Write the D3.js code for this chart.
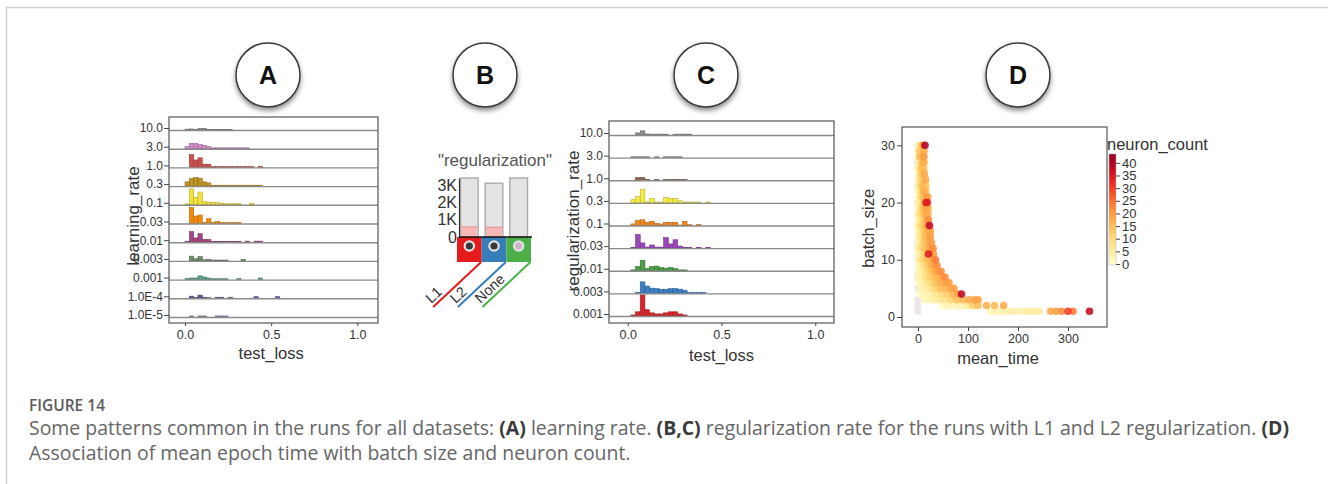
<!DOCTYPE html>
<html><head><meta charset="utf-8">
<script src="https://cdn.jsdelivr.net/npm/d3@7"></script>
<style>
body{margin:0;background:#fff}
svg{display:block}
text{font-family:"Liberation Sans",Arial,sans-serif}
.cap{font-family:"Open Sans","Noto Sans",sans-serif}
</style>
</head><body>
<svg id="c" width="1328" height="484"></svg>
<script>
// ---------------- DATA ----------------
// Panel A: test_loss histograms per learning rate (bin width 0.025 starting at 0.0)
const lrCategories = ["10.0","3.0","1.0","0.3","0.1","0.03","0.01","0.003","0.001","1.0E-4","1.0E-5"];
const lrColors = ["#8c8c8c","#d08cc8","#c9504c","#bf9328","#f2e23a","#f28a0c","#a34683","#6f8c6c","#5aa383","#5c5c96","#8c8cae"];
const lrCounts = [
  [0.8,1,0.5,1.5,1.5,0.6,0.6,0.6,0.6,0.6,0.6],
  [2,5,5,4,3,2,0.8,0.8,0.8,0.8,0.8,0.8,0.8,0.8,0.8],
  [0,12,7,9,3,3,0.7,0.7,0.7,0.7,0.7,0.7,0.7,0.7,0.7,0.7,0,1],
  [4,7,8,7.5,4,3,0.8,0.8,0.8,0.8,0.8,0.8,0.8,0.8,0.8,0.8,0.8,0.8],
  [0.8,15,7,12,3,2.5,2,2,1.5,1,1,1,1,0,0,1.5],
  [0,15,7,8,1,4.5,1,2,0.8,0.8,0.8,0.8,0.8],
  [0.8,10,4,8,2.5,2.5,0.8,0.8,0.8,0.8,0.8,0.8,0.8,0,1,0,1,1],
  [0,4.5,2,4,1,1.5,0.8,0.8,0.8,0.8,0,0,0,1.5],
  [1,1.5,1.5,3.5,2.5,1.5,0.8,0.8,0.8,0.8,0,0,1,0,0,0,0,1.5],
  [0,2,0.8,3,1,0.5,0,1,1,0,1,0,0,0,0,0,1.5,0,0,0,0,1.5],
  [0,1,0,1,1,0,0,1,1,1]
];
const lrBinStart = 0.0;
const binWidth = 0.025;
const lossTicks = [0, 0.5, 1.0];

// Panel B: regularization type counts (total and selected)
const regCategories = ["L1","L2","None"];
const regTotals = [3400, 3100, 3400];
const regSelected = [580, 560, 0];
const regColors = ["#e41a1c","#377eb8","#4daf4a"];
const regTicks = [0, 1000, 2000, 3000];

// Panel C: test_loss histograms per regularization rate (bin width 0.025 starting at 0.0165)
const rrCategories = ["10.0","3.0","1.0","0.3","0.1","0.03","0.01","0.003","0.001"];
const rrColors = ["#8f8f8f","#8f8f8f","#8b6a55","#f4ec45","#f0871f","#9a48b5","#4a9e47","#3b7fc1","#d7262b"];
const rrCounts = [
  [0,2,4,1,0.8,0.8,0.8,0.8,0,0.8,0.8,0.8,0.8],
  [0.8,0.8,0.8,0.8,0,0.8,0,0.8,0.8,0.8,0.8],
  [0,2.5,2.5,1,0,0.8,0,0.8,0.8,0.8,0.8,0.8],
  [3,6,13,1,4,0.8,0.8,5,4,4,2,0.8,0.8,0.8,0.8,0,0.8],
  [1.5,5,5.5,3,4,2,1.5,3,3,3,0.5,4,0.8,0,0.8],
  [0.8,13,5,1,3,1,1,10,4,8,2,0.8,0.8,0,0.8,0,0.8],
  [0.8,4,10,2,4,4.5,3,2.5,3,2,0.8,0.8],
  [0,1,11,7,5,4.5,4,4,4.5,4.5,4,3,0.8,0.8,0.8,0.8],
  [1,4,20,6,3,2,2,3,4,4,2,1]
];
const rrBinStart = 0.0165;

// Panel D: mean_time vs batch_size coloured by neuron_count
const dBatch = [30,29,28,27,26,25,24,23,22,21,20,19,18,17,16,15,14,13,12,11,10,9,8,7,6,5,4,3,2,1];
const dTimes = [
  [2,6,10,14],[1,5,9,12],[0,4,8,12],[2,6,10,13],[0,4,8,12],[1,5,9,13],
  [0,4,8,12,15],[1,5,9,13,16],[0,4,8,12,16],[1,5,9,13,17,20],[0,4,8,12,16,19],
  [1,5,9,13,17,21],[0,4,8,12,16,20],[1,5,9,13,17,21],[0,5,10,15,19,23],
  [1,6,11,16,21,25],[0,5,10,15,20,25],[2,7,12,17,22,27],[0,5,10,15,20,25,30],
  [1,6,11,16,21,26,31],[0,6,12,18,24,30,35],[2,8,14,20,26,32,38],
  [0,7,14,21,28,35,41,46],[1,8,16,24,32,40,48,54],[3,8,16,24,32,40,48,56,62],
  [5,10,19,28,37,46,55,64,72],[6,12,24,36,48,60,70,80,87],
  [14,22,32,42,54,66,78,90,102,112,120],
  [50,60,70,80,90,100,110,120,137,153,171],
  [145,155,165,176,188,200,210,220,232,242,265,276,287,300,310,343]
];
const dNeurons = [
  [4,12,18,40],[8,14,10,18],[3,16,12,20],[6,10,18,14],[4,9,16,13],[2,12,14,18],
  [2,8,13,10,18],[5,10,16,9,14],[2,7,12,18,13],[2,9,14,12,20,16],[3,6,10,15,34,32],
  [2,8,13,16,19,14],[5,9,12,15,18,16],[2,6,10,13,18,22],[4,9,13,16,19,38],
  [2,8,12,15,18,19],[3,6,10,16,15,20],[2,9,13,12,18,20],[5,8,12,15,16,19,22],
  [2,6,10,13,34,18,20],[3,8,11,15,16,19,24],[2,6,10,13,16,19,22],
  [2,5,8,12,15,18,20,22],[3,5,9,12,15,16,19,22],[2,4,7,10,13,16,18,19,20],
  [2,4,6,9,12,15,16,18,20],[2,3,5,8,11,13,16,19,38],
  [2,3,5,7,9,12,15,16,18,19,20],
  [2,3,2,4,4,7,12,15,17,16,18],
  [2,4,3,5,6,3,5,6,5,6,18,20,22,30,24,38]
];
const dFaintBatch = [30,27,23,20,18,16,13,10,8,7,5,3,2,1];
const dFaintTime = [0,-1,0,-1,0,0,-1,0,0,-1,0,0,-1,0];
const timeTicks = [0,100,200,300];
const batchTicks = [0,10,20,30];
const neuronTicks = [0,5,10,15,20,25,30,35,40];

const panelLetters = ["A","B","C","D"];
const captionTitle = "FIGURE 14";
const captionLine1 = [["Some patterns common in the runs for all datasets: ",0],["(A)",1],[" learning rate. ",0],["(B,C)",1],[" regularization rate for the runs with L1 and L2 regularization. ",0],["(D)",1]];
const captionLine2 = "Association of mean epoch time with batch size and neuron count.";

// ---------------- DRAW ----------------
const svg = d3.select("#c");
const defs = svg.append("defs");
const flt = defs.append("filter").attr("id","sh").attr("x","-50%").attr("y","-50%").attr("width","200%").attr("height","200%");
flt.append("feDropShadow").attr("dx",0).attr("dy",3).attr("stdDeviation",2.5).attr("flood-color","#000").attr("flood-opacity",0.45);

// outer frame
svg.append("path").attr("d","M6.5,484V7.5H1328").attr("fill","none").attr("stroke","#cfcfcf").attr("stroke-width",1.5);

// panel letter circles
const letterIdx = d3.scalePoint().domain(panelLetters).range([0,3]);
const letterPos = [268, 485, 706, 1018];
panelLetters.forEach((L)=>{
  const g = svg.append("g").attr("transform",`translate(${letterPos[letterIdx(L)]},75)`);
  g.append("circle").attr("r",32).attr("fill","#fff").attr("stroke","#3a3a3a").attr("stroke-width",1.5).attr("filter","url(#sh)");
  g.append("text").text(L).attr("text-anchor","middle").attr("dy","0.36em")
    .attr("font-size",25).attr("font-weight","bold").attr("fill","#111");
});

function styleAxis(g, fs){
  g.select(".domain").remove();
  g.selectAll("text").attr("font-size",fs).attr("fill","#333");
  g.selectAll("line").attr("stroke","#444");
}

function histPanel(o){
  const x = d3.scaleLinear().domain(o.xDomain).range([o.left,o.right]);
  const y = d3.scalePoint().domain(o.cats).range([o.rowTop,o.rowBottom]);
  const h = d3.scaleLinear().domain([0,o.hMax]).range([0,o.hPx]);
  const g = svg.append("g");
  o.cats.forEach((c,i)=>{
    const base = y(c);
    const col = o.colors[i];
    g.append("g").selectAll("rect").data(o.counts[i].map((v,k)=>({v,k})).filter(d=>d.v>0))
      .join("rect")
      .attr("x",d=>x(o.binStart+d.k*binWidth))
      .attr("width",d=>x(o.binStart+(d.k+1)*binWidth)-x(o.binStart+d.k*binWidth))
      .attr("y",d=>base-h(d.v)).attr("height",d=>h(d.v))
      .attr("fill",col).attr("stroke",d3.color(col).darker(0.8)).attr("stroke-width",0.6);
    g.append("line").attr("x1",o.left).attr("x2",o.right).attr("y1",base+0.5).attr("y2",base+0.5)
      .attr("stroke","#8a8a8a").attr("stroke-width",1.4);
  });
  g.append("rect").attr("x",o.left).attr("y",o.top).attr("width",o.right-o.left).attr("height",o.bottom-o.top)
    .attr("fill","none").attr("stroke","#555").attr("stroke-width",1.2);
  const ya = g.append("g").attr("transform",`translate(${o.left},-2)`).call(d3.axisLeft(y).tickSize(5).tickPadding(1));
  styleAxis(ya, 12);
  const xa = g.append("g").attr("transform",`translate(0,${o.bottom})`)
    .call(d3.axisBottom(x).tickValues(lossTicks).tickFormat(d3.format(".1f")).tickSize(3).tickPadding(4));
  styleAxis(xa, 12.5);
  g.append("text").text("test_loss").attr("x",x(0.5)).attr("y",o.xTitleY).attr("text-anchor","middle")
    .attr("font-size",16.5).attr("fill","#333");
  g.append("text").text(o.yTitle).attr("transform",`translate(${o.yTitleX},${o.yTitleY}) rotate(-90)`)
    .attr("text-anchor","middle").attr("dy","0.35em").attr("font-size",o.yTitleSize).attr("fill","#333");
}

histPanel({left:169,right:378,top:117,bottom:323,rowTop:130,rowBottom:317,xDomain:[-0.093,1.12],
  cats:lrCategories,colors:lrColors,counts:lrCounts,binStart:lrBinStart,hMax:16,hPx:17,
  xTitleY:359,yTitle:"learning_rate",yTitleX:133,yTitleY:216,yTitleSize:17});
histPanel({left:609,right:834,top:121,bottom:323,rowTop:135,rowBottom:316,xDomain:[-0.1,1.1],
  cats:rrCategories,colors:rrColors,counts:rrCounts,binStart:rrBinStart,hMax:21,hPx:22,
  xTitleY:361,yTitle:"regularization_rate",yTitleX:573,yTitleY:221,yTitleSize:17});

// ---- Panel B ----
(function(){
  const bx = d3.scaleBand().domain(regCategories).range([457,531]);
  const by = d3.scaleLinear().domain([0,3400]).range([237,178]);
  const g = svg.append("g");
  g.append("text").text('"regularization"').attr("x",495).attr("y",160).attr("dy","0.35em")
    .attr("text-anchor","middle").attr("font-size",17).attr("fill","#555");
  const bw = bx.bandwidth();
  regCategories.forEach((c,i)=>{
    g.append("rect").attr("x",bx(c)+3.5).attr("width",bw-7).attr("y",by(regTotals[i])).attr("height",by(0)-by(regTotals[i]))
      .attr("fill","#e4e4e4").attr("stroke","#ababab").attr("stroke-width",1.4);
    if(regSelected[i]>0){
      g.append("rect").attr("x",bx(c)+4.2).attr("width",bw-8.4).attr("y",by(regSelected[i])).attr("height",by(0)-by(regSelected[i]))
        .attr("fill","#f6b8b6");
      g.append("line").attr("x1",bx(c)+3.5).attr("x2",bx(c)+bw-3.5).attr("y1",by(regSelected[i])).attr("y2",by(regSelected[i]))
        .attr("stroke","#e39a98").attr("stroke-width",1.2);
    }
    g.append("rect").attr("x",bx(c)).attr("width",bw).attr("y",by(0)).attr("height",25).attr("fill",regColors[i]);
    const cx = bx(c)+bw/2;
    g.append("circle").attr("cx",cx).attr("cy",by(0)+9).attr("r",5.8).attr("fill","#e2e2e2");
    g.append("circle").attr("cx",cx).attr("cy",by(0)+9).attr("r",3.6).attr("fill",regSelected[i]>0?"#383838":"#cdb6c9");
    const x1 = bx(c)+bw-0.5, y1 = by(0)+25, x2 = x1-48, y2 = y1+45;
    g.append("line").attr("x1",x1).attr("y1",y1).attr("x2",x2).attr("y2",y2).attr("stroke",regColors[i]).attr("stroke-width",2);
    g.append("text").text(c).attr("transform",`translate(${x2-2},${y2-3}) rotate(-43)`)
      .attr("font-size",14.5).attr("fill","#333");
  });
  const ya = g.append("g").attr("transform","translate(459,0)")
    .call(d3.axisLeft(by).tickValues(regTicks).tickFormat(d=>d===0?"0":(d/1000)+"K").tickSize(0).tickSizeOuter(0).tickPadding(2));
  ya.select(".domain").attr("stroke","#333").attr("stroke-width",1.2);
  ya.selectAll("text").attr("font-size",16).attr("fill","#333");
  g.append("line").attr("x1",459).attr("x2",532).attr("y1",by(0)).attr("y2",by(0)).attr("stroke","#111").attr("stroke-width",1.6);
})();

// ---- Panel D ----
(function(){
  const L=902,R=1107,T=127,B=327;
  const x = d3.scaleLinear().domain([-32,378]).range([L,R]);
  const y = d3.scaleLinear().domain([-1.75,33.2]).range([B,T]);
  const color = d3.scaleSequential(d3.interpolateYlOrRd).domain([0,45]);
  const g = svg.append("g");
  const pts = [];
  dBatch.forEach((b,i)=>dTimes[i].forEach((t,j)=>pts.push({b,t,n:dNeurons[i][j]})));
  pts.sort((a,b)=>a.n-b.n);
  g.append("g").selectAll("circle").data(dFaintBatch.map((b,i)=>({b,t:dFaintTime[i]}))).join("circle")
    .attr("cx",d=>x(d.t)).attr("cy",d=>y(d.b)).attr("r",3.6).attr("fill","#e6dfdf").attr("opacity",0.75);
  g.append("g").selectAll("circle").data(pts).join("circle")
    .attr("cx",d=>x(d.t)).attr("cy",d=>y(d.b)).attr("r",3.8).attr("fill",d=>color(d.n)).attr("opacity",0.88);
  g.append("rect").attr("x",L).attr("y",T).attr("width",R-L).attr("height",B-T).attr("fill","none").attr("stroke","#555").attr("stroke-width",1.2);
  const xa = g.append("g").attr("transform",`translate(0,${B})`).call(d3.axisBottom(x).tickValues(timeTicks).tickSize(4).tickPadding(3));
  styleAxis(xa,12.5);
  const ya = g.append("g").attr("transform",`translate(${L},0)`).call(d3.axisLeft(y).tickValues(batchTicks).tickSize(5).tickPadding(2));
  styleAxis(ya,12.5);
  g.append("text").text("mean_time").attr("x",x(160)).attr("y",364).attr("text-anchor","middle").attr("font-size",16.5).attr("fill","#333");
  g.append("text").text("batch_size").attr("transform",`translate(868,${y(15.5)}) rotate(-90)`).attr("text-anchor","middle")
    .attr("dy","0.35em").attr("font-size",16.5).attr("fill","#333");
  const lg = d3.scaleLinear().domain([0,43.5]).range([264,154]);
  const grad = defs.append("linearGradient").attr("id","lg").attr("x1",0).attr("y1",1).attr("x2",0).attr("y2",0);
  d3.range(0,1.0001,0.1).forEach(t=>grad.append("stop").attr("offset",t).attr("stop-color",color(t*43.5)));
  g.append("text").text("neuron_count").attr("x",1107).attr("y",144).attr("dy","0.35em").attr("font-size",16.5).attr("fill","#333");
  g.append("rect").attr("x",1109).attr("width",7).attr("y",lg(43.5)).attr("height",lg(0)-lg(43.5)+1).attr("fill","url(#lg)")
    .attr("stroke","#bbb").attr("stroke-width",0.5);
  const la = g.append("g").attr("transform","translate(1116,0)").call(d3.axisRight(lg).tickValues(neuronTicks).tickSize(4).tickPadding(2));
  styleAxis(la,13);
})();

// ---- Caption ----
(function(){
  const g = svg.append("g").attr("class","cap");
  g.append("text").attr("class","cap").text(captionTitle).attr("x",29).attr("y",411)
    .attr("font-size",17).attr("font-weight",600).attr("fill","#5a5a5a").attr("textLength",76).attr("lengthAdjust","spacingAndGlyphs");
  const t1 = g.append("text").attr("class","cap").attr("x",29).attr("y",435).attr("font-size",16).attr("fill","#666");
  captionLine1.forEach(([s,b])=>t1.append("tspan").text(s).attr("font-weight",b?700:400).attr("fill",b?"#3a3a3a":"#666"));
  const w = t1.node().getComputedTextLength();
  const fs = 16*1261/w;
  t1.attr("font-size",fs);
  g.append("text").attr("class","cap").text(captionLine2).attr("x",29).attr("y",460).attr("font-size",fs).attr("fill","#666");
})();
</script>
</body></html>
